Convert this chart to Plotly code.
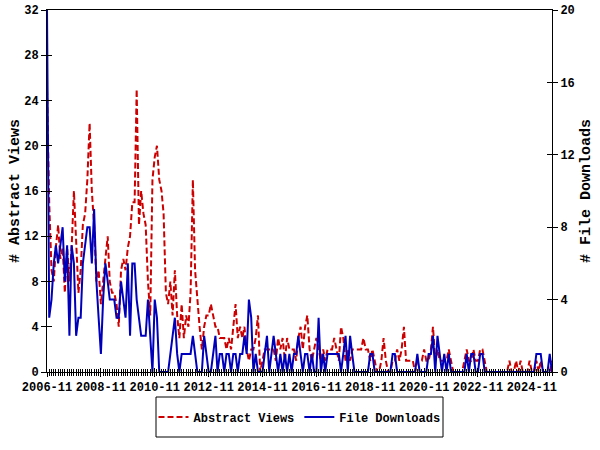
import pandas as pd
import plotly.graph_objects as go

months = pd.date_range("2006-11-01", periods=226, freq="MS")

abstract_views = [
    25, 15, 9, 8, 11, 13, 10, 11, 7, 11,
    8, 11, 16, 11, 7, 9, 13, 14, 17, 22,
    16, 13, 8, 9, 6, 8, 10, 12, 8, 7,
    7, 6, 4, 9, 10, 9, 11, 12, 15, 15,
    25, 13, 16, 14, 13, 8, 5, 17, 19, 20,
    17, 16, 14, 7, 6, 8, 5, 9, 5, 3,
    6, 3, 5, 4, 7, 17, 9, 6, 4, 2,
    4, 5, 5, 6, 5, 4, 4, 3, 3, 3,
    2, 3, 2, 4, 6, 3, 4, 3, 4, 2,
    1, 2, 2, 3, 5, 0, 1, 2, 2, 2,
    2, 2, 1, 3, 2, 3, 1, 3, 2, 2,
    2, 1, 3, 4, 2, 4, 5, 2, 1, 2,
    3, 2, 1, 2, 1, 2, 2, 2, 3, 2,
    1, 4, 3, 1, 2, 1, 2, 2, 2, 2,
    2, 3, 2, 2, 1, 2, 1, 0, 0, 1,
    3, 1, 0, 0, 1, 1, 2, 1, 2, 4,
    1, 1, 1, 1, 0, 1, 1, 1, 2, 1,
    1, 2, 4, 1, 2, 1, 1, 1, 1, 2,
    1, 0, 0, 0, 0, 0, 1, 2, 1, 1,
    2, 1, 1, 2, 2, 1, 0, 0, 0, 0,
    0, 0, 0, 0, 0, 0, 1, 0, 0, 1,
    0, 1, 0, 0, 0, 1, 0, 0, 1, 0,
    1, 0, 0, 0, 0, 1,
]

file_downloads = [
    20, 3, 4, 6, 7, 6, 7, 8, 5, 7,
    2, 7, 6, 2, 3, 3, 6, 7, 8, 8,
    6, 9, 5, 3, 1, 4, 6, 5, 4, 4,
    4, 3, 3, 5, 4, 3, 6, 2, 6, 6,
    4, 3, 2, 2, 2, 4, 2, 0, 4, 3,
    0, 0, 0, 0, 0, 1, 2, 3, 1, 0,
    1, 1, 1, 1, 1, 2, 1, 0, 0, 0,
    2, 1, 0, 0, 1, 2, 0, 1, 1, 0,
    1, 1, 0, 1, 1, 0, 1, 1, 2, 1,
    4, 3, 0, 1, 0, 0, 0, 1, 2, 0,
    1, 2, 1, 0, 1, 0, 1, 0, 1, 0,
    1, 1, 2, 1, 0, 1, 1, 0, 1, 0,
    0, 3, 0, 1, 0, 1, 1, 1, 1, 1,
    1, 0, 1, 2, 0, 2, 1, 0, 0, 0,
    0, 0, 0, 0, 1, 1, 0, 0, 0, 0,
    0, 0, 0, 0, 1, 1, 0, 0, 0, 0,
    0, 0, 0, 0, 0, 1, 0, 0, 0, 0,
    1, 1, 2, 0, 2, 1, 0, 1, 0, 1,
    0, 0, 0, 0, 0, 0, 0, 1, 0, 1,
    1, 0, 0, 1, 1, 0, 0, 0, 0, 0,
    0, 0, 0, 0, 0, 0, 0, 0, 0, 0,
    0, 0, 0, 0, 0, 0, 0, 0, 1, 1,
    1, 0, 0, 0, 1, 0,
]

left_ticks = [0, 4, 8, 12, 16, 20, 24, 28, 32]
right_ticks = [0, 4, 8, 12, 16, 20]

RED = "#cc0000"
BLUE = "#0000bb"
FONT = "Liberation Mono"
x_range = ["2006-11-01", "2025-08-01"]

fig = go.Figure()
fig.add_trace(go.Scatter(
    x=months, y=abstract_views, name="Abstract Views", mode="lines",
    line=dict(color=RED, width=2, dash="6px,3px"), yaxis="y",
))
fig.add_trace(go.Scatter(
    x=months, y=file_downloads, name="File Downloads", mode="lines",
    line=dict(color=BLUE, width=2), yaxis="y2",
))
# helper empty traces so the inner-tick overlay axes get drawn
fig.add_trace(go.Scatter(x=[None], y=[None], xaxis="x2", yaxis="y3",
                         showlegend=False, hoverinfo="skip"))
fig.add_trace(go.Scatter(x=[None], y=[None], xaxis="x2", yaxis="y4",
                         showlegend=False, hoverinfo="skip"))

axis_common = dict(showgrid=False, zeroline=False, linecolor="black",
                   tickcolor="black", tickwidth=1, automargin=False)

# legend box (paper coords relative to plot area 47..552 x 10..372)
PW, PH = 505.0, 362.0
box_x0, box_x1 = (156 - 47) / PW, (443 - 47) / PW
box_y0, box_y1 = -(437 - 372) / PH, -(397 - 372) / PH

fig.update_layout(
    width=600, height=450,
    margin=dict(l=47, r=48, t=10, b=78, autoexpand=False),
    paper_bgcolor="white", plot_bgcolor="white",
    font=dict(family=FONT, size=12, color="black", weight="bold"),
    showlegend=True,
    legend=dict(orientation="h", x=0.5, xanchor="center",
                y=-(417 - 372) / PH, yanchor="middle",
                borderwidth=0, bgcolor="rgba(0,0,0,0)",
                font=dict(family=FONT, size=12, color="black", weight="bold"),
                itemwidth=30),
    shapes=[dict(type="rect", xref="paper", yref="paper",
                 x0=box_x0, x1=box_x1, y0=box_y0, y1=box_y1,
                 line=dict(color="black", width=1), fillcolor="rgba(0,0,0,0)",
                 layer="below")],
    xaxis=dict(type="date", range=x_range, tick0="2006-11-01", dtick="M24",
               tickformat="%Y-%m", ticks="outside", ticklen=4, showline=True,
               mirror=True, linewidth=1,
               minor=dict(dtick="M1", ticks="outside", ticklen=3, tickcolor="black"),
               **axis_common),
    xaxis2=dict(type="date", range=x_range, overlaying="x", tick0="2006-11-01",
                dtick="M24", ticks="inside", ticklen=4, showticklabels=False,
                showline=False,
                minor=dict(dtick="M1", ticks="inside", ticklen=3, tickcolor="black"),
                **axis_common),
    yaxis=dict(range=[0, 32], tickvals=left_ticks, ticks="outside", ticklen=5,
               showline=True, linewidth=1,
               title=dict(text="# Abstract Views", font=dict(size=15), standoff=0),
               **axis_common),
    yaxis2=dict(range=[0, 20], tickvals=right_ticks, overlaying="y", side="right",
                ticks="outside", ticklen=5, showline=True, linewidth=1,
                title=dict(text="# File Downloads", font=dict(size=15), standoff=5),
                **axis_common),
    yaxis3=dict(range=[0, 32], tickvals=left_ticks, overlaying="y", side="left",
                ticks="inside", ticklen=5, showticklabels=False, showline=False,
                **axis_common),
    yaxis4=dict(range=[0, 20], tickvals=right_ticks, overlaying="y", side="right",
                ticks="inside", ticklen=5, showticklabels=False, showline=False,
                **axis_common),
)

fig.write_html("out.html", config={"displayModeBar": False},
               post_script="document.body.style.margin='0';document.body.style.overflow='hidden';")
